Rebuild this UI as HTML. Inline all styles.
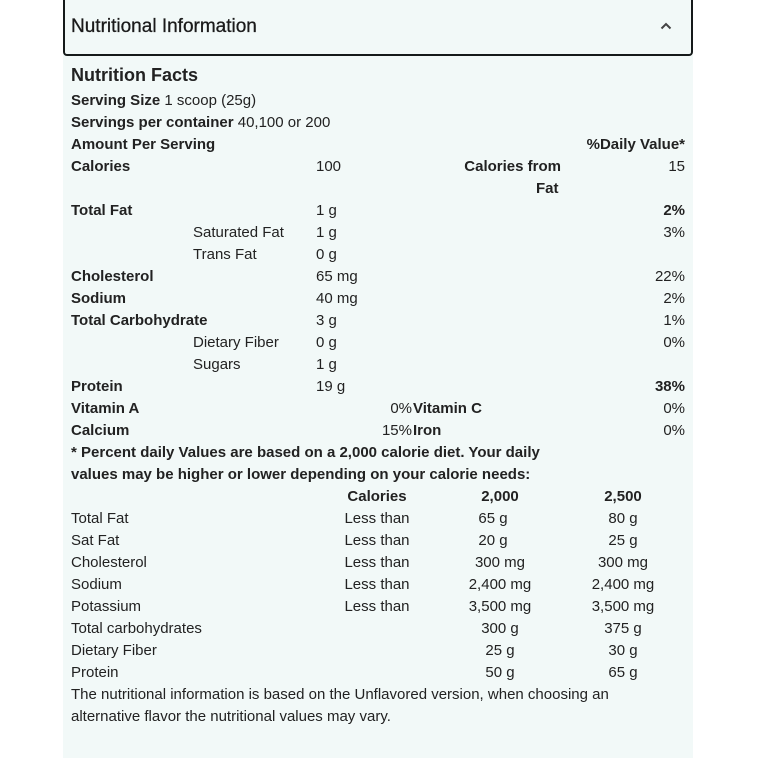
<!DOCTYPE html>
<html><head><meta charset="utf-8"><style>
html,body{margin:0;padding:0;background:#fff;width:758px;height:758px;overflow:hidden}
body{position:relative;font-family:"Liberation Sans",sans-serif;color:#222;font-size:15px}
.panel{position:absolute;left:63px;top:54px;width:630px;height:704px;background:#f2f9f8}
.hdr{position:absolute;left:63px;top:-4px;width:626px;height:56px;background:#f2f9f8;border:2px solid #151a1a;border-radius:4px}
.t{position:absolute;line-height:22px;white-space:nowrap}
.b{font-weight:bold}
.r{text-align:right}
.c{text-align:center}
.w{position:absolute;left:0;top:2px;width:758px;height:758px}
</style></head><body>
<div class="panel"></div>
<div class="hdr"></div>
<div class="t" style="left:71px;top:16px;font-size:19px;line-height:22px;color:#1a1a1a;-webkit-text-stroke:0.3px #1a1a1a">Nutritional Information</div>
<svg style="position:absolute;left:660px;top:22px" width="12" height="8"><path d="M1.5 6.5 L6 2 L10.5 6.5" fill="none" stroke="#444" stroke-width="2"/></svg>
<div class="t b" style="left:71px;top:64px;font-size:18px">Nutrition Facts</div>
<div class="w">
<div class="t" style="left:71px;top:88px"><b>Serving Size</b> 1 scoop (25g)</div>
<div class="t" style="left:71px;top:110px"><b>Servings per container</b> 40,100 or 200</div>
<div class="t b" style="left:71px;top:132px">Amount Per Serving</div>
<div class="t b r" style="right:73px;top:132px">%Daily Value*</div>
<div class="t b" style="left:71px;top:154px">Calories</div>
<div class="t" style="left:316px;top:154px">100</div>
<div class="t b r" style="right:197px;top:154px">Calories from</div>
<div class="t b" style="left:536px;top:176px">Fat</div>
<div class="t r" style="right:73px;top:154px">15</div>

<div class="t b" style="left:71px;top:198px">Total Fat</div><div class="t" style="left:316px;top:198px">1 g</div><div class="t b r" style="right:73px;top:198px">2%</div>
<div class="t" style="left:193px;top:220px">Saturated Fat</div><div class="t" style="left:316px;top:220px">1 g</div><div class="t r" style="right:73px;top:220px">3%</div>
<div class="t" style="left:193px;top:242px">Trans Fat</div><div class="t" style="left:316px;top:242px">0 g</div>
<div class="t b" style="left:71px;top:264px">Cholesterol</div><div class="t" style="left:316px;top:264px">65 mg</div><div class="t r" style="right:73px;top:264px">22%</div>
<div class="t b" style="left:71px;top:286px">Sodium</div><div class="t" style="left:316px;top:286px">40 mg</div><div class="t r" style="right:73px;top:286px">2%</div>
<div class="t b" style="left:71px;top:308px">Total Carbohydrate</div><div class="t" style="left:316px;top:308px">3 g</div><div class="t r" style="right:73px;top:308px">1%</div>
<div class="t" style="left:193px;top:330px">Dietary Fiber</div><div class="t" style="left:316px;top:330px">0 g</div><div class="t r" style="right:73px;top:330px">0%</div>
<div class="t" style="left:193px;top:352px">Sugars</div><div class="t" style="left:316px;top:352px">1 g</div>
<div class="t b" style="left:71px;top:374px">Protein</div><div class="t" style="left:316px;top:374px">19 g</div><div class="t b r" style="right:73px;top:374px">38%</div>
<div class="t b" style="left:71px;top:396px">Vitamin A</div><div class="t r" style="right:346px;top:396px">0%</div><div class="t b" style="left:413px;top:396px">Vitamin C</div><div class="t r" style="right:73px;top:396px">0%</div>
<div class="t b" style="left:71px;top:418px">Calcium</div><div class="t r" style="right:346px;top:418px">15%</div><div class="t b" style="left:413px;top:418px">Iron</div><div class="t r" style="right:73px;top:418px">0%</div>
<div class="t b" style="left:71px;top:440px">* Percent daily Values are based on a 2,000 calorie diet. Your daily</div>
<div class="t b" style="left:71px;top:462px">values may be higher or lower depending on your calorie needs:</div>

<div class="t b c" style="left:327px;width:100px;top:484px">Calories</div>
<div class="t b c" style="left:450px;width:100px;top:484px">2,000</div>
<div class="t b c" style="left:573px;width:100px;top:484px">2,500</div>

<div class="t" style="left:71px;top:506px">Total Fat</div><div class="t c" style="left:327px;width:100px;top:506px">Less than</div><div class="t c" style="left:443px;width:100px;top:506px">65 g</div><div class="t c" style="left:573px;width:100px;top:506px">80 g</div>
<div class="t" style="left:71px;top:528px">Sat Fat</div><div class="t c" style="left:327px;width:100px;top:528px">Less than</div><div class="t c" style="left:443px;width:100px;top:528px">20 g</div><div class="t c" style="left:573px;width:100px;top:528px">25 g</div>
<div class="t" style="left:71px;top:550px">Cholesterol</div><div class="t c" style="left:327px;width:100px;top:550px">Less than</div><div class="t c" style="left:450px;width:100px;top:550px">300 mg</div><div class="t c" style="left:573px;width:100px;top:550px">300 mg</div>
<div class="t" style="left:71px;top:572px">Sodium</div><div class="t c" style="left:327px;width:100px;top:572px">Less than</div><div class="t c" style="left:450px;width:100px;top:572px">2,400 mg</div><div class="t c" style="left:573px;width:100px;top:572px">2,400 mg</div>
<div class="t" style="left:71px;top:594px">Potassium</div><div class="t c" style="left:327px;width:100px;top:594px">Less than</div><div class="t c" style="left:450px;width:100px;top:594px">3,500 mg</div><div class="t c" style="left:573px;width:100px;top:594px">3,500 mg</div>
<div class="t" style="left:71px;top:616px">Total carbohydrates</div><div class="t c" style="left:450px;width:100px;top:616px">300 g</div><div class="t c" style="left:573px;width:100px;top:616px">375 g</div>
<div class="t" style="left:71px;top:638px">Dietary Fiber</div><div class="t c" style="left:450px;width:100px;top:638px">25 g</div><div class="t c" style="left:573px;width:100px;top:638px">30 g</div>
<div class="t" style="left:71px;top:660px">Protein</div><div class="t c" style="left:450px;width:100px;top:660px">50 g</div><div class="t c" style="left:573px;width:100px;top:660px">65 g</div>
<div class="t" style="left:71px;top:682px">The nutritional information is based on the Unflavored version, when choosing an</div>
<div class="t" style="left:71px;top:704px">alternative flavor the nutritional values may vary.</div>
</div>
</body></html>
